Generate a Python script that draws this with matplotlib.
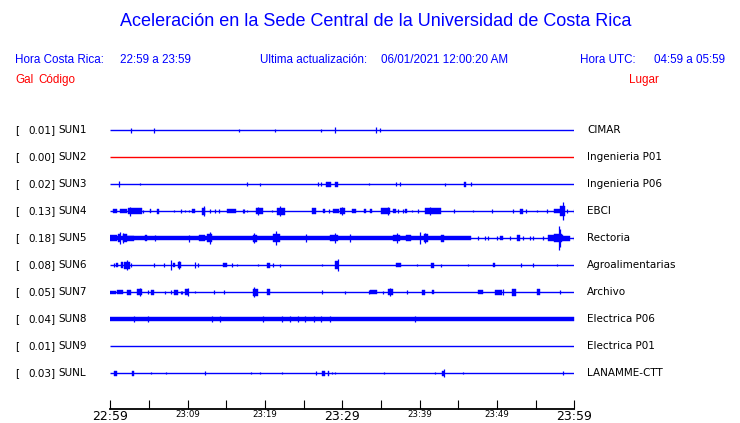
import matplotlib.pyplot as plt
from matplotlib.transforms import blended_transform_factory

# Estaciones (de arriba hacia abajo)
codigos = ['SUN1', 'SUN2', 'SUN3', 'SUN4', 'SUN5', 'SUN6', 'SUN7', 'SUN8', 'SUN9', 'SUNL']
maximos = ['0.01', '0.00', '0.02', '0.13', '0.18', '0.08', '0.05', '0.04', '0.01', '0.03']
lugares = ['CIMAR', 'Ingenieria P01', 'Ingenieria P06', 'EBCI', 'Rectoria',
           'Agroalimentarias', 'Archivo', 'Electrica P06', 'Electrica P01', 'LANAMME-CTT']
colores = ['#0000ff', '#ff0000', '#0000ff', '#0000ff', '#0000ff',
           '#0000ff', '#0000ff', '#0000ff', '#0000ff', '#0000ff']

# Eventos de cada traza: (minuto inicio, minuto fin, amplitud); inicio == fin -> pico
ev_sun1 = [(2.7, 2.7, 2.5), (5.7, 5.7, 2.5), (16.7, 16.7, 1.5), (21.3, 21.3, 1.5),
           (27.3, 27.3, 1.5), (29.0, 29.0, 3), (34.3, 34.3, 3), (34.9, 34.9, 2)]
ev_sun2 = []
ev_sun3 = [(1.1, 1.1, 3), (3.8, 3.8, 1), (17.7, 17.7, 2), (19.4, 19.4, 1.5),
           (26.8, 26.8, 2), (27.2, 27.2, 2), (27.9, 28.6, 2.5), (29.0, 29.5, 2.5),
           (33.5, 33.5, 1), (37.0, 37.0, 2), (37.4, 37.4, 2), (43.3, 43.3, 1.5),
           (45.8, 46.0, 2.5), (46.6, 46.6, 2)]
ev_sun4 = [(0.3, 0.9, 2), (1.3, 2.1, 2), (2.3, 4.1, 3), (2.6, 2.6, 4.5), (4.2, 4.2, 1.5),
           (5.1, 5.3, 2), (6.1, 6.3, 2.5), (8.3, 8.3, 1), (9.1, 9.1, 2), (9.6, 9.6, 1),
           (10.2, 10.2, 1), (10.6, 10.9, 2), (11.9, 12.3, 3.5), (12.1, 12.1, 5),
           (12.9, 12.9, 2), (13.6, 13.6, 2), (14.0, 14.0, 2), (15.1, 16.2, 2),
           (17.1, 17.1, 2), (17.3, 17.3, 2), (17.7, 17.7, 1), (18.8, 19.8, 3),
           (19.1, 19.1, 4), (20.9, 20.9, 1), (21.6, 22.6, 3.5), (22.0, 22.0, 5),
           (26.1, 26.6, 3), (27.5, 27.7, 2), (28.3, 28.3, 2), (28.8, 29.6, 2),
           (29.7, 30.4, 3), (30.0, 30.0, 4), (31.3, 31.8, 2), (32.8, 33.1, 2),
           (33.6, 33.9, 2), (35.0, 36.2, 3), (35.9, 35.9, 4), (36.6, 37.0, 2),
           (37.2, 37.2, 2), (37.9, 37.9, 2), (38.1, 38.4, 2), (39.0, 39.0, 1),
           (39.8, 39.8, 2), (40.7, 42.8, 3), (41.3, 41.3, 4), (44.4, 44.4, 2),
           (46.9, 46.9, 1), (49.3, 49.3, 2), (52.1, 52.1, 2), (53.0, 53.4, 2.5),
           (53.7, 53.7, 2), (55.2, 55.2, 1), (56.5, 56.5, 2), (57.4, 58.1, 2),
           (58.1, 58.8, 5), (58.5, 58.5, 9), (59.0, 59.0, 2), (59.9, 59.9, 2)]
ev_sun5 = [(0.0, 46.6, 2), (0.0, 0.9, 3), (1.0, 1.3, 4), (1.2, 1.2, 6), (1.6, 2.1, 4),
           (1.7, 1.7, 5), (2.1, 3.0, 2.5), (4.5, 4.7, 3), (5.8, 5.8, 3), (10.2, 10.2, 3.5),
           (11.5, 12.3, 3), (12.5, 13.1, 4), (12.9, 12.9, 6), (18.5, 19.0, 3.5),
           (18.6, 18.6, 5), (21.1, 21.9, 4), (21.4, 21.4, 7), (25.3, 25.3, 4),
           (28.4, 29.4, 3), (29.1, 29.1, 5), (31.0, 31.0, 4), (36.5, 37.5, 3),
           (37.1, 37.1, 5), (38.3, 38.9, 3), (40.0, 40.0, 6), (40.5, 41.1, 4),
           (40.7, 40.7, 5), (42.7, 43.1, 3.5), (47.5, 47.5, 2), (48.5, 48.5, 2),
           (48.9, 48.9, 2), (50.0, 50.0, 2), (50.4, 50.8, 2), (51.7, 51.7, 2),
           (52.6, 53.0, 3), (53.4, 53.4, 2), (54.3, 54.3, 2), (54.7, 54.7, 2),
           (55.9, 55.9, 2), (56.6, 58.6, 3), (57.4, 58.4, 4), (58.0, 58.0, 12),
           (58.2, 58.2, 9), (58.6, 59.5, 2.5), (60.0, 60.0, 2)]
ev_sun6 = [(0.5, 0.5, 2), (0.8, 1.0, 2), (1.4, 1.6, 3), (1.8, 2.5, 3.5), (2.2, 2.2, 5),
           (2.7, 2.7, 2), (5.6, 5.6, 2), (6.9, 6.9, 2), (7.8, 7.8, 5), (8.1, 8.4, 2),
           (8.8, 9.2, 3), (8.9, 8.9, 4), (10.9, 10.9, 3), (11.3, 11.3, 2),
           (14.6, 15.1, 2), (15.8, 15.8, 2), (16.4, 16.4, 1), (19.1, 19.1, 1),
           (20.3, 20.6, 2.5), (21.1, 21.1, 2), (21.9, 21.9, 1.5), (27.4, 27.4, 1),
           (29.1, 29.5, 4), (29.4, 29.4, 6), (37.0, 37.6, 2), (39.6, 39.6, 1),
           (41.5, 41.8, 2.5), (42.8, 42.8, 1.5), (46.2, 46.2, 1), (49.5, 49.8, 2),
           (53.1, 53.1, 2), (54.7, 54.7, 2), (57.7, 57.7, 1)]
ev_sun7 = [(0.0, 0.8, 1.5), (0.9, 1.6, 2), (2.1, 2.7, 2.5), (3.5, 4.1, 3), (3.8, 3.8, 4),
           (4.9, 4.9, 2), (5.2, 5.7, 2.5), (7.1, 7.1, 1.5), (7.8, 7.8, 2), (8.3, 8.8, 2.5),
           (9.1, 9.1, 1.5), (9.3, 9.3, 1.5), (9.7, 10.1, 3), (10.0, 10.0, 4),
           (11.0, 11.0, 1), (13.4, 13.4, 2), (14.7, 14.7, 2), (18.4, 19.1, 3.5),
           (18.6, 18.6, 5), (20.3, 20.6, 3), (27.4, 27.4, 2), (30.4, 30.4, 1.5),
           (33.4, 33.4, 2), (33.6, 34.5, 2), (35.3, 35.3, 1.5), (35.9, 36.5, 3),
           (36.2, 36.2, 4), (38.4, 38.4, 2), (40.3, 40.7, 2.5), (41.6, 41.9, 2),
           (47.5, 48.2, 2), (49.8, 50.7, 2.5), (50.8, 50.8, 3), (52.0, 52.4, 3.5),
           (55.2, 55.6, 3), (58.1, 58.1, 2)]
ev_sun8 = [(0.0, 60.0, 2), (3.1, 3.1, 3), (4.9, 4.9, 3), (13.2, 13.2, 3), (14.2, 14.2, 3),
           (19.8, 19.8, 3), (22.2, 22.2, 3), (23.3, 23.3, 3), (24.3, 24.3, 3),
           (25.2, 25.2, 3), (26.4, 26.4, 3), (27.2, 27.2, 3), (28.4, 28.4, 3),
           (39.4, 39.4, 3)]
ev_sun9 = []
ev_sunl = [(0.5, 0.9, 2.5), (2.8, 3.1, 2.5), (5.3, 5.3, 1), (7.2, 7.2, 1), (12.3, 12.3, 2),
           (18.2, 18.2, 1), (19.4, 19.4, 1), (22.2, 22.2, 1), (26.6, 26.6, 2),
           (27.4, 27.8, 2.5), (28.1, 28.3, 2.5), (28.7, 28.7, 1), (29.0, 29.0, 1),
           (35.4, 35.4, 1), (42.0, 42.0, 1), (42.9, 43.2, 2.5), (43.1, 43.1, 4),
           (45.6, 45.6, 1), (58.5, 58.5, 2)]

eventos = [ev_sun1, ev_sun2, ev_sun3, ev_sun4, ev_sun5,
           ev_sun6, ev_sun7, ev_sun8, ev_sun9, ev_sunl]

# Eje de tiempo (minutos desde 22:59)
ticks_min = [0, 5, 10, 15, 20, 25, 30, 35, 40, 45, 50, 55, 60]
ticks_txt = ['22:59', '', '23:09', '', '23:19', '', '23:29', '', '23:39', '', '23:49', '', '23:59']
ticks_grandes = ['22:59', '23:29', '23:59']

AZUL = '#0000ff'
ROJO = '#ff0000'
W, H = 740, 423
ESC = 1 / 27.0   # amplitud -> separacion entre trazas


def fx(px):
    return px / W


def fy(py):
    return 1 - py / H


def main():
    fig = plt.figure(figsize=(W / 100, H / 100), dpi=100)
    fig.patch.set_facecolor('white')

    # Encabezado
    fnt = 'Liberation Sans'
    fs = 8.4
    fig.text(fx(376), fy(22), 'Aceleración en la Sede Central de la Universidad de Costa Rica',
             ha='center', va='center', color=AZUL, fontsize=13, family=fnt)
    fig.text(fx(15), fy(60), 'Hora Costa Rica:', color=AZUL, fontsize=fs, family=fnt, va='center')
    fig.text(fx(120), fy(60), '22:59 a 23:59', color=AZUL, fontsize=fs, family=fnt, va='center')
    fig.text(fx(260), fy(60), 'Ultima actualización:', color=AZUL, fontsize=fs, family=fnt, va='center')
    fig.text(fx(381), fy(60), '06/01/2021 12:00:20 AM', color=AZUL, fontsize=fs, family=fnt, va='center')
    fig.text(fx(580), fy(60), 'Hora UTC:', color=AZUL, fontsize=fs, family=fnt, va='center')
    fig.text(fx(725), fy(60), '04:59 a 05:59', color=AZUL, fontsize=fs, family=fnt,
             va='center', ha='right')
    fig.text(fx(15), fy(80), 'Gal', color=ROJO, fontsize=fs, family=fnt, va='center')
    fig.text(fx(38), fy(80), 'Código', color=ROJO, fontsize=fs, family=fnt, va='center')
    fig.text(fx(629), fy(80), 'Lugar', color=ROJO, fontsize=fs, family=fnt, va='center')

    # Trazas: eje con el tiempo en x y el numero de estacion en y
    x0, x1 = 110.3, 574.3
    y_sup, y_inf = 100, 409
    ax = fig.add_axes([fx(x0), fy(y_inf), (x1 - x0) / W, (y_inf - y_sup) / H])
    ax.set_xlim(0, 60)
    ax.set_ylim((y_inf - 130.3) / 27, (y_sup - 130.3) / 27)
    ax.patch.set_alpha(0)

    for i, ev in enumerate(eventos):
        c = colores[i]
        ax.plot([0, 60], [i, i], color=c, lw=1.0, solid_capstyle='butt')
        for t0, t1, a in ev:
            if t1 > t0:
                ax.fill_between([t0, t1], i - a * ESC, i + a * ESC, color=c, lw=0.3)
            else:
                ax.vlines(t0, i - a * ESC, i + a * ESC, color=c, lw=0.9)

    # Etiquetas a izquierda y derecha
    trans = blended_transform_factory(fig.transFigure, ax.transData)
    for i in range(len(codigos)):
        fig.text(fx(15), i, '[', transform=trans, va='center', fontsize=7.5)
        fig.text(fx(55.5), i, maximos[i] + ']', transform=trans, va='center', ha='right', fontsize=7.5)
        fig.text(fx(58.7), i, codigos[i], transform=trans, va='center', fontsize=7.5)
        fig.text(fx(587.3), i, lugares[i], transform=trans, va='center', fontsize=7.5)

    for lado in ['top', 'left', 'right']:
        ax.spines[lado].set_visible(False)
    ax.spines['bottom'].set_linewidth(1.3)
    ax.set_yticks([])
    ax.set_xticks(ticks_min, ticks_txt)
    ax.tick_params(axis='x', direction='in', length=6.5, width=0.8, pad=1)
    for lab in ax.get_xticklabels():
        lab.set_fontsize(9.0 if lab.get_text() in ticks_grandes else 6.2)

    fig.savefig('out.png', dpi=100)


if __name__ == '__main__':
    main()
